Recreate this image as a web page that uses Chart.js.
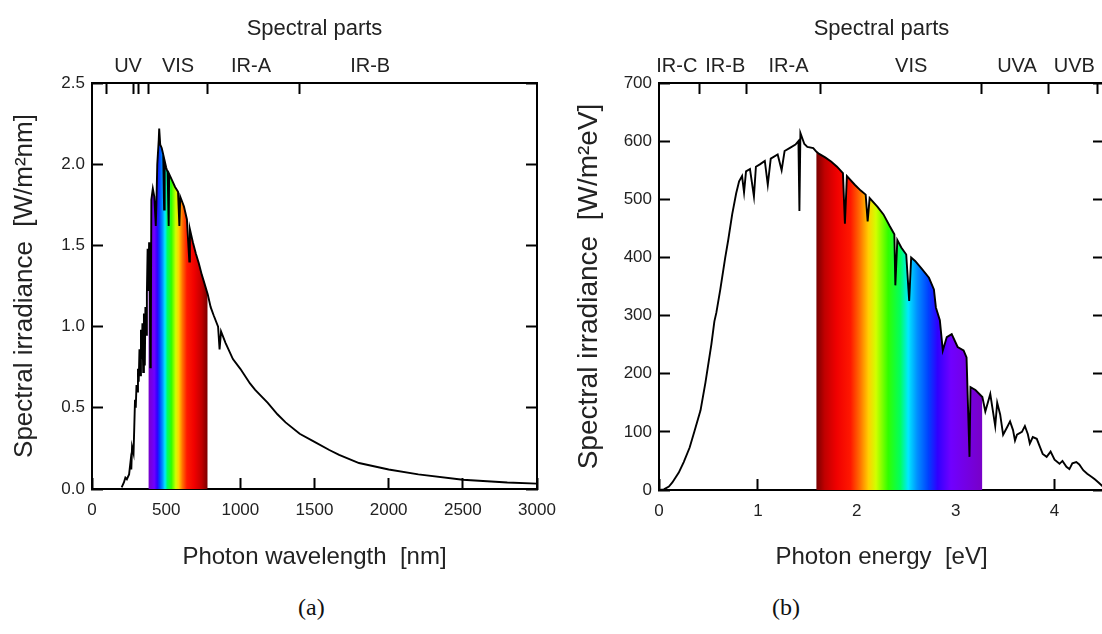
<!DOCTYPE html>
<html>
<head>
<meta charset="utf-8">
<script src="https://cdn.jsdelivr.net/npm/chart.js"></script>
<style>
  html, body { margin: 0; padding: 0; background: #fff; }
  body { width: 1102px; height: 634px; overflow: hidden; position: relative; }
  canvas { position: absolute; top: 0; }
  #chartA { left: 0; }
  #chartB { left: 560px; }
  .cap { position: absolute; top: 594px; font: 24px 'Liberation Serif', 'Times New Roman', serif; line-height: 26px; color: #111; }
</style>
</head>
<body>
<canvas id="chartA" width="560" height="580"></canvas>
<canvas id="chartB" width="560" height="580"></canvas>
<div class="cap" style="left:298px">(a)</div>
<div class="cap" style="left:772px">(b)</div>
<script>
// (a) spectre en longueur d'onde [nm] -> [W/m2nm]
const wavelength = [200, 215, 225, 235, 250, 260, 265, 270, 280, 285, 290, 295, 300, 305, 310, 315, 320, 325, 330, 335,
  340, 345, 350, 356, 360, 365, 370, 375, 380, 385, 390, 393, 395, 397, 400, 410, 420, 430, 434, 440,
  450, 453, 460, 470, 480, 486, 490, 500, 510, 517, 520, 540, 560, 580, 589, 595, 620, 640, 656, 660,
  680, 700, 720, 740, 760, 780, 800, 820, 850, 860, 870, 900, 950, 1000, 1065, 1100, 1185, 1250, 1305, 1400,
  1500, 1600, 1666, 1800, 2000, 2200, 2500, 2800, 3000];
const irrWl = [0.01, 0.04, 0.07, 0.06, 0.09, 0.17, 0.12, 0.26, 0.22, 0.38, 0.55, 0.50, 0.64, 0.60, 0.74, 0.66, 0.86, 0.70, 0.98, 0.80,
  1.02, 0.72, 1.08, 0.76, 1.12, 0.95, 1.20, 1.48, 1.22, 1.52, 1.25, 0.75, 1.42, 0.80, 1.78, 1.85, 1.80, 1.62, 1.75, 2.00,
  2.15, 2.22, 2.12, 2.10, 2.06, 1.72, 2.02, 1.98, 1.95, 1.62, 1.94, 1.90, 1.86, 1.83, 1.62, 1.80, 1.74, 1.66, 1.40, 1.60,
  1.52, 1.45, 1.39, 1.32, 1.26, 1.20, 1.12, 1.07, 1.00, 0.86, 0.97, 0.90, 0.80, 0.74, 0.65, 0.61, 0.53, 0.46, 0.41, 0.34,
  0.29, 0.24, 0.21, 0.16, 0.12, 0.09, 0.057, 0.040, 0.033];

// (b) spectre en énergie [eV] -> [W/m2eV]
const energy = [0, 0.05, 0.10, 0.135, 0.20, 0.25, 0.31, 0.36, 0.42, 0.47, 0.53, 0.56, 0.58, 0.62, 0.67, 0.70, 0.74, 0.78, 0.81, 0.84,
  0.86, 0.88, 0.92, 0.96, 0.98, 1.02, 1.07, 1.10, 1.13, 1.20, 1.24, 1.27, 1.32, 1.38, 1.41, 1.42, 1.43, 1.47, 1.50, 1.56,
  1.59, 1.62, 1.68, 1.74, 1.80, 1.86, 1.88, 1.90, 1.98, 2.04, 2.09, 2.11, 2.13, 2.21, 2.27, 2.33, 2.38, 2.39, 2.41, 2.45,
  2.50, 2.53, 2.55, 2.59, 2.66, 2.73, 2.78, 2.80, 2.84, 2.87, 2.91, 2.96, 3.02, 3.08, 3.11, 3.14, 3.15, 3.20, 3.27, 3.30,
  3.35, 3.37, 3.40, 3.42, 3.45, 3.48, 3.52, 3.55, 3.58, 3.60, 3.62, 3.67, 3.70, 3.73, 3.75, 3.78, 3.82, 3.85, 3.88, 3.92,
  3.96, 4.00, 4.05, 4.08, 4.12, 4.15, 4.18, 4.22, 4.25, 4.29, 4.33, 4.38, 4.41, 4.45, 4.50];
const irrEv = [0, 1, 6, 13, 30, 48, 73, 102, 137, 185, 251, 290, 305, 345, 400, 430, 474, 510, 531, 540,
  512, 548, 552, 505, 556, 560, 566, 525, 570, 577, 550, 583, 588, 594, 600, 480, 614, 595, 590, 588,
  582, 578, 572, 565, 556, 545, 458, 540, 525, 515, 508, 462, 502, 487, 474, 455, 440, 352, 430, 417,
  405, 325, 400, 394, 380, 365, 345, 314, 292, 240, 263, 268, 246, 240, 228, 57, 177, 172, 160, 135,
  165, 143, 110, 150, 130, 95, 108, 118, 103, 85, 95, 100, 110, 96, 80, 91, 88, 75, 62, 57,
  66, 52, 45, 50, 40, 36, 46, 48, 44, 34, 28, 22, 18, 12, 4];

// parties spectrales (axe du haut)
const wlParts = ['UV', 'VIS', 'IR-A', 'IR-B'];
const wlPartPos = [243, 580, 1072, 1875];
const wlBounds = [100, 280, 315, 380, 780, 1400];
const evParts = ['IR-C', 'IR-B', 'IR-A', 'VIS', 'UVA', 'UVB'];
const evPartPos = [0.18, 0.67, 1.31, 2.55, 3.62, 4.2];
const evBounds = [0.413, 0.886, 1.63, 3.26, 3.94, 4.43];

// bande visible coloriée
const wlBand = [380, 780];
const evBand = [1.59, 3.27];

// couleurs de l'arc-en-ciel, par longueur d'onde
const spectrumStops = [[380, '#7800c8'], [420, '#7000ff'], [440, '#3000ff'], [455, '#0040ff'], [475, '#0090ff'],
  [492, '#00e8ff'], [508, '#00ff60'], [535, '#30ff00'], [565, '#d0ff00'], [585, '#ffd000'], [610, '#ff7000'],
  [640, '#ff1800'], [690, '#f00000'], [740, '#c00000'], [780, '#780000']];

Chart.defaults.font.family = "'Liberation Sans', Arial, sans-serif";
Chart.defaults.color = '#222';

function spectrumFill(ctx, toX) {
  const chart = ctx.chart;
  if (!chart.chartArea) return 'rgba(0,0,0,0)';
  const sx = chart.scales.x;
  const px = spectrumStops.map(s => sx.getPixelForValue(toX(s[0])));
  const a = Math.min(...px), b = Math.max(...px);
  const g = chart.ctx.createLinearGradient(a, 0, b, 0);
  spectrumStops.forEach((s, i) => g.addColorStop((px[i] - a) / (b - a), s[1]));
  return g;
}

// graduations vers l'intérieur (tickLength négatif)
const tickGrid = { drawOnChartArea: false, tickLength: -11, tickWidth: 2, tickColor: '#000' };
const frame = { color: '#000', width: 2 };
const noPad = s => { s.paddingLeft = 0; s.paddingRight = 0; s.paddingTop = 0; s.paddingBottom = 0; };

function makeChart(id, o) {
  const pts = o.xs.map((x, i) => ({ x: x, y: o.ys[i] }));
  const band = pts.filter(p => p.x >= o.band[0] && p.x <= o.band[1]);

  return new Chart(document.getElementById(id), {
    type: 'line',
    data: {
      datasets: [
        { data: pts, borderColor: '#000', borderWidth: 1.9, pointRadius: 0, fill: false },
        { data: band, borderWidth: 0, pointRadius: 0, fill: 'origin', backgroundColor: ctx => spectrumFill(ctx, o.toX) }
      ]
    },
    options: {
      responsive: false,
      animation: false,
      layout: { padding: 0 },
      plugins: { legend: { display: false }, tooltip: { enabled: false } },
      scales: {
        x: {
          type: 'linear', position: 'bottom', min: o.xMin, max: o.xMax,
          ticks: { stepSize: o.xStep, includeBounds: false, padding: 22, maxRotation: 0, font: { size: 17 }, callback: v => String(v) },
          grid: tickGrid, border: frame,
          title: { display: true, text: o.xTitle, font: { size: 24 }, padding: { top: 0, bottom: 8 } },
          afterFit: s => { s.height = o.bottomH; noPad(s); }
        },
        x2: {
          type: 'linear', position: 'top', min: o.xMin, max: o.xMax,
          afterBuildTicks: s => { s.ticks = o.bounds.concat(o.partPos).map(v => ({ value: v })); },
          ticks: {
            autoSkip: false, maxRotation: 0, padding: 16, font: { size: 20 },
            callback: v => { const i = o.partPos.indexOf(v); return i >= 0 ? o.parts[i] : ''; }
          },
          grid: {
            drawOnChartArea: false, tickLength: -11, tickWidth: 2,
            tickColor: ctx => o.bounds.includes(ctx.tick.value) ? '#000' : 'rgba(0,0,0,0)'
          },
          border: frame,
          title: { display: true, text: 'Spectral parts', font: { size: 22 }, padding: { top: 16, bottom: 0 } },
          afterFit: s => { s.height = 83; noPad(s); }
        },
        y: {
          position: 'left', min: 0, max: o.yMax,
          ticks: { stepSize: o.yStep, padding: 18, font: { size: 17 }, callback: o.yFmt },
          grid: tickGrid, border: frame,
          title: { display: true, text: o.yTitle, font: { size: o.yTitleSize }, padding: { top: o.yTitlePad, bottom: 0 } },
          afterFit: s => { s.width = o.leftW; noPad(s); }
        },
        y2: {
          position: 'right', min: 0, max: o.yMax,
          ticks: { stepSize: o.yStep, display: false },
          grid: tickGrid, border: frame,
          afterFit: s => { s.width = o.rightW; noPad(s); }
        }
      }
    }
  });
}

makeChart('chartA', {
  xs: wavelength, ys: irrWl, band: wlBand, toX: nm => nm,
  xMin: 0, xMax: 3000, xStep: 500, yMax: 2.5, yStep: 0.5, yFmt: v => v.toFixed(1),
  parts: wlParts, partPos: wlPartPos, bounds: wlBounds,
  xTitle: 'Photon wavelength  [nm]', yTitle: 'Spectral irradiance  [W/m²nm]', yTitlePad: 9, yTitleSize: 26,
  leftW: 92, rightW: 23, bottomH: 91
});

makeChart('chartB', {
  xs: energy, ys: irrEv, band: evBand, toX: nm => 1239.84 / nm,
  xMin: 0, xMax: 4.5, xStep: 1, yMax: 700, yStep: 100, yFmt: v => v,
  parts: evParts, partPos: evPartPos, bounds: evBounds,
  xTitle: 'Photon energy  [eV]', yTitle: 'Spectral irradiance  [W/m²eV]', yTitlePad: 12, yTitleSize: 28,
  leftW: 99, rightW: 16, bottomH: 90
});
</script>
</body>
</html>
